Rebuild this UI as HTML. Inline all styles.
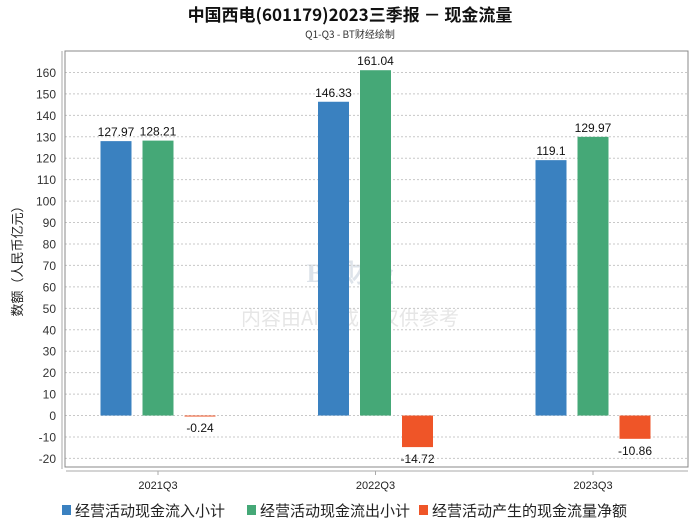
<!DOCTYPE html>
<html><head><meta charset="utf-8"><style>
body{margin:0;background:#fff;width:700px;height:524px;overflow:hidden;font-family:"Liberation Sans","Noto Sans CJK SC",sans-serif}
</style></head><body>
<svg id="c" width="700" height="524" xmlns="http://www.w3.org/2000/svg">
<text x="350" y="21" text-anchor="middle" font-size="17" font-weight="bold" fill="#111" font-family="'Noto Sans CJK SC',sans-serif">中国西电(601179)2023三季报 － 现金流量</text>
<text x="350" y="38" text-anchor="middle" font-size="10" fill="#333" font-family="'Noto Sans CJK SC',sans-serif">Q1-Q3 - BT财经绘制</text>
<text x="350" y="282" text-anchor="middle" font-size="26" fill="#dde3ea" font-weight="bold" font-family="'Liberation Serif',serif">BT财经</text>
<text x="350" y="325" text-anchor="middle" font-size="20" fill="#e6e6e6" font-family="'Noto Sans CJK SC',sans-serif">内容由AI生成，仅供参考</text>
<g id="grid"></g><g id="bars"></g>
<text transform="translate(22,258) rotate(-90)" text-anchor="middle" font-size="13" fill="#222" font-family="'Noto Sans CJK SC',sans-serif">数额（人民币亿元）</text>
<g id="legend" font-size="15" font-family="'Noto Sans CJK SC',sans-serif" fill="#222"></g>
</svg>
<script>
const categories=["2021Q3","2022Q3","2023Q3"];
const seriesNames=["经营活动现金流入小计","经营活动现金流出小计","经营活动产生的现金流量净额"];
const inflow=[127.97,146.33,119.1];
const outflow=[128.21,161.04,129.97];
const net=[-0.24,-14.72,-10.86];
const yTicks=[-20,-10,0,10,20,30,40,50,60,70,80,90,100,110,120,130,140,150,160];
const colors=["#3a81c0","#45a877","#ef5528"];
const NS="http://www.w3.org/2000/svg";
const L=65,R=688,T=51,B=467,ymin=-24,ymax=170;
const y=v=>B-(v-ymin)/(ymax-ymin)*(B-T);
const xc=i=>158+217.5*i;
function el(t,a,p){const e=document.createElementNS(NS,t);for(const k in a)e.setAttribute(k,a[k]);p.appendChild(e);return e;}
const g=document.getElementById('grid'),b=document.getElementById('bars');
yTicks.forEach(v=>{
 const l=el('line',{x1:L,x2:R,y1:y(v),y2:y(v),stroke:'#c8c8c8','stroke-dasharray':'2,2'},g);
 
 
 const t=el('text',{x:56,y:y(v)+4.5,'text-anchor':'end','font-size':12,fill:'#333'},g);
 t.textContent=v;
 
 
});
const frame=el('rect',{x:L,y:T,width:R-L,height:B-T,fill:'none',stroke:'#888'},g);


const ax=el('line',{x1:62,x2:62,y1:T,y2:B+2,stroke:'#aaa'},g);


const ax2=el('line',{x1:66,x2:688,y1:471,y2:471,stroke:'#aaa'},g);


const series=[inflow,outflow,net];
categories.forEach((c,i)=>{
 const t=el('text',{x:xc(i),y:489,'text-anchor':'middle','font-size':11,fill:'#222'},g);
 t.textContent=c;
 
 
 const tk=el('line',{x1:xc(i),x2:xc(i),y1:471,y2:475,stroke:'#aaa'},g);
 
 
 series.forEach((s,j)=>{
  const v=s[i],cx=xc(i)+(j-1)*42,y0=y(0),y1=y(v);
  const r=el('rect',{x:cx-15.5,y:Math.min(y0,y1),width:31,height:Math.max(1,Math.abs(y1-y0)),fill:colors[j]},b);
  
  
  const lt=el('text',{x:cx,y:v>=0?y1-5:y1+16,'text-anchor':'middle','font-size':12,fill:'#111'},b);
  lt.textContent=v;
  
  
 });
});
const lg=document.getElementById('legend');
const lx=[62,247,419];
seriesNames.forEach((n,j)=>{
 const r=el('rect',{x:lx[j],y:505,width:9,height:10,fill:colors[j]},lg);
 
 
 const t=el('text',{x:lx[j]+13,y:516},lg);
 t.textContent=n;
 
 
});
</script>
</body></html>
